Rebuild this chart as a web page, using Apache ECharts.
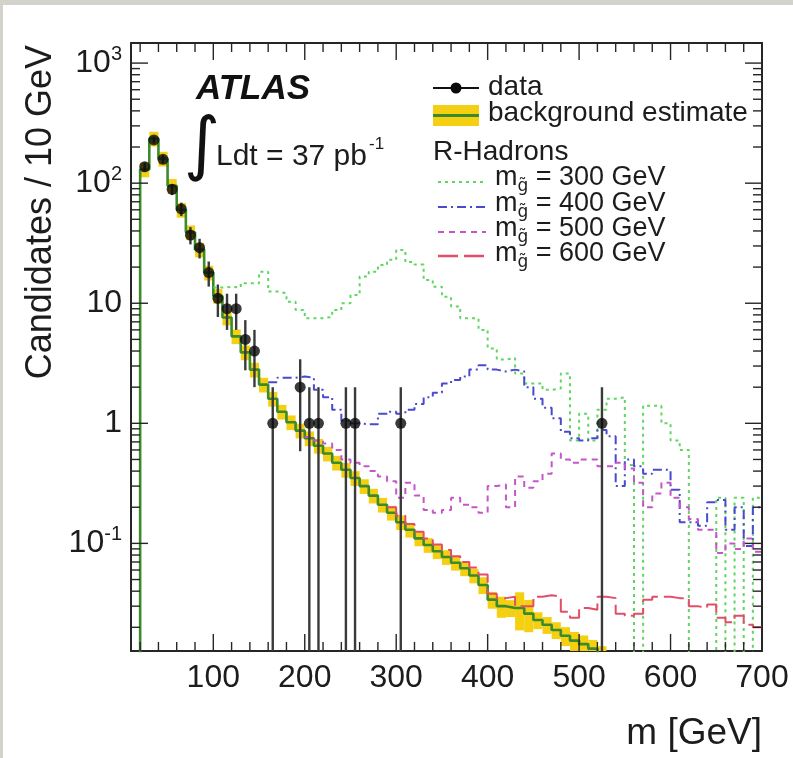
<!DOCTYPE html>
<html>
<head>
<meta charset="utf-8">
<title>R-Hadron candidates</title>
<script src="https://cdn.jsdelivr.net/npm/echarts@6/dist/echarts.min.js"></script>
<style>
  html, body { margin: 0; padding: 0; background: #d3d3cb; width: 793px; height: 758px; overflow: hidden; }
  #paper { position: absolute; left: 3px; top: 5px; width: 790px; height: 753px; background: #ffffff; }
  #chart { position: absolute; left: 0; top: 0; width: 793px; height: 758px; }
</style>
</head>
<body>
<div id="paper"></div>
<div id="chart"></div>
<script>
// ---- axis ranges ----
const X_MIN = 10, X_MAX = 700;
const Y_MIN = 0.0127, Y_MAX = 1470;
const BIN = 10;
const FLOOR = Y_MIN * 0.3;   // empty bins are drawn down to the floor of the pad
const xTickLabels = [100, 200, 300, 400, 500, 600, 700];

// ---- observed candidates (bin centres, counts) ----
const dataMass   = [25, 35, 45, 55, 65, 75, 85, 95, 105, 115, 125, 135, 145, 165, 195, 205, 215, 245, 255, 305, 525];
const dataCounts = [137, 229, 158, 89, 61, 37, 29, 18, 11, 9, 9, 5, 4, 1, 2, 1, 1, 1, 1, 1, 1];

// ---- background estimate, bins of 10 GeV starting at 20 GeV ----
const bkgStart = 20;
const bkgValues = [130, 235, 160, 95, 60, 39, 28, 18, 11.5, 7.6,
                   5.3, 3.9, 2.8, 2.1, 1.6, 1.25, 1.02, 0.87, 0.75, 0.65,
                   0.56, 0.47, 0.41, 0.35, 0.30, 0.25, 0.21, 0.18, 0.15, 0.13,
                   0.11, 0.097, 0.086, 0.077, 0.069, 0.062, 0.054, 0.045, 0.034, 0.030,
                   0.029, 0.029, 0.026, 0.023, 0.021, 0.019, 0.017, 0.0155, 0.0145, 0.0133,
                   0.0118];
const bkgRelErr = [0.14, 0.14, 0.14, 0.14, 0.14, 0.14, 0.14, 0.14, 0.14, 0.14,
                   0.14, 0.14, 0.14, 0.14, 0.14, 0.14, 0.14, 0.14, 0.14, 0.14,
                   0.14, 0.14, 0.14, 0.14, 0.14, 0.14, 0.14, 0.14, 0.14, 0.14,
                   0.14, 0.14, 0.14, 0.14, 0.14, 0.14, 0.14, 0.16, 0.16, 0.2,
                   0.16, 0.35, 0.3, 0.16, 0.16, 0.16, 0.18, 0.18, 0.18, 0.18,
                   0.18];

// ---- R-hadron signal + background, gluino masses 300/400/500/600 GeV ----
const sig300Start = 100;
const sig300 = [13.5, 13.7, 13.5, 14.7, 14.7, 18.3, 12.5, 12.1, 10.3, 8.8,
                7.5, 7.5, 7.7, 8.8, 10, 11.7, 16.7, 18.3, 20.8, 23,
                27.8, 22, 21, 15.6, 13.7, 11.3, 9.4, 7.5, 7.5, 6.0,
                4.2, 3.4, 3.5, 2.6, 2.15, 2.15, 1.9, 1.95, 2.6, 0.72,
                1.2, 0.72, 1.3, 1.6, 1.65, 0.45, 0, 1.4, 1.4, 1.0,
                0.72, 0.6, 0, 0, 0, 0.24, 0, 0.24, 0, 0.24];
const sig400Start = 160;
const sig400 = [2.2, 2.4, 2.4, 2.45, 2.4, 1.9, 1.65, 1.3, 1.05, 1.0,
                0.98, 0.98, 1.2, 1.25, 1.2, 1.3, 1.45, 1.65, 1.8, 2.15,
                2.3, 2.45, 2.8, 3.05, 2.8, 2.7, 2.8, 2.7, 2.0, 1.6,
                1.35, 1.1, 0.85, 0.75, 0.72, 0.75, 0.88, 0.78, 0.3, 0.5,
                0.44, 0.38, 0.41, 0.41, 0.28, 0.15, 0.15, 0.14, 0.22, 0.23,
                0.13, 0.2, 0.095, 0.2];
const sig500Start = 200;
const sig500 = [0.77, 0.72, 0.68, 0.6, 0.5, 0.47, 0.44, 0.4, 0.36, 0.33,
                0.24, 0.32, 0.25, 0.19, 0.18, 0.19, 0.24, 0.21, 0.2, 0.18,
                0.3, 0.31, 0.2, 0.36, 0.29, 0.33, 0.38, 0.56, 0.5, 0.47,
                0.5, 0.5, 0.44, 0.44, 0.47, 0.42, 0.32, 0.2, 0.26, 0.32,
                0.24, 0.2, 0.16, 0.13, 0.13, 0.083, 0.1, 0.09, 0.11, 0.085];
const sig600Start = 290;
const sig600 = [0.2, 0.17, 0.145, 0.125, 0.11, 0.098, 0.088, 0.078, 0.07, 0.063,
                0.055, 0.038, 0.035, 0.036, 0.03, 0.03, 0.036, 0.037, 0.036, 0.027,
                0.024, 0.029, 0.028, 0.036, 0.035, 0.026, 0.025, 0.026, 0.034, 0.036,
                0.036, 0.035, 0.035, 0.03, 0.029, 0.031, 0.024, 0.022, 0.025, 0.021,
                0.02];

// ---- styling ----
const FONT = '"Liberation Sans", Arial, Helvetica, sans-serif';
const TEXT = '#1c1c1c';
const FRAME = '#262626';
const BAND = '#f5cf12';
const BKG_LINE = '#3b8a2c';
const C300 = '#5fd65f', C400 = '#4a4acf', C500 = '#c456c8', C600 = '#e24d68';
const DASH300 = [3, 4], DASH400 = [9, 4, 2, 4], DASH500 = [6, 5], DASH600 = [20, 6];

// histogram outline: one point per bin low edge, plus the closing edge
function histPoints(start, values) {
  const pts = values.map((v, i) => [start + i * BIN, v > 0 ? v : FLOOR]);
  const last = values[values.length - 1];
  pts.push([start + values.length * BIN, last > 0 ? last : FLOOR]);
  return pts;
}

const bkgLine = [[X_MIN, FLOOR]].concat(histPoints(bkgStart, bkgValues));
const bandItems = bkgValues.map((v, i) => [bkgStart + i * BIN, v, bkgRelErr[i]]);
const dataItems = dataMass.map((m, i) => [m, dataCounts[i]]);

// tick marks on all four sides of the frame (ROOT style, pointing inwards)
const tickItems = [];
for (let m = 20; m < X_MAX; m += 20) tickItems.push([m, 1, 0, m % 100 === 0 ? 17 : 9]);
for (let e = -2; e <= 3; e++) {
  for (let k = 1; k <= 9; k++) {
    const v = k * Math.pow(10, e);
    if (v > Y_MIN && v < Y_MAX) tickItems.push([100, v, 1, k === 1 ? 17 : 9]);
  }
}

function renderTick(params, api) {
  const cs = params.coordSys;
  const len = api.value(3);
  const st = { stroke: FRAME, lineWidth: 1.4 };
  if (api.value(2) === 0) {
    const px = api.coord([api.value(0), 1])[0];
    const yb = cs.y + cs.height, yt = cs.y;
    return { type: 'group', children: [
      { type: 'line', shape: { x1: px, y1: yb, x2: px, y2: yb - len }, style: st },
      { type: 'line', shape: { x1: px, y1: yt, x2: px, y2: yt + len }, style: st }
    ] };
  }
  const py = api.coord([100, api.value(1)])[1];
  const xl = cs.x, xr = cs.x + cs.width;
  return { type: 'group', children: [
    { type: 'line', shape: { x1: xl, y1: py, x2: xl + len, y2: py }, style: st },
    { type: 'line', shape: { x1: xr, y1: py, x2: xr - len, y2: py }, style: st }
  ] };
}

function renderBand(params, api) {
  const lo = api.value(0), v = api.value(1), e = api.value(2);
  const p1 = api.coord([lo, v * (1 + e)]);
  const p2 = api.coord([lo + BIN, Math.max(v * (1 - e), Y_MIN)]);
  const rect = echarts.graphic.clipRectByRect(
    { x: p1[0], y: p1[1], width: p2[0] - p1[0], height: p2[1] - p1[1] },
    { x: params.coordSys.x, y: params.coordSys.y, width: params.coordSys.width, height: params.coordSys.height });
  if (!rect) return null;
  return { type: 'rect', shape: rect, style: { fill: BAND } };
}

function renderErr(params, api) {
  const m = api.value(0), n = api.value(1), e = Math.sqrt(n);
  const top = api.coord([m, n + e]);
  const bot = api.coord([m, Math.max(n - e, Y_MIN)]);
  return { type: 'line', shape: { x1: top[0], y1: top[1], x2: bot[0], y2: bot[1] },
           style: { stroke: '#3a3a3a', lineWidth: 2.4 } };
}

function signalSeries(name, start, values, color, dash) {
  return {
    name, type: 'line', step: 'end', symbol: 'none', z: 4,
    data: histPoints(start, values),
    lineStyle: { color, width: 2, type: dash }
  };
}

function yLabel(v) {
  const e = Math.round(Math.log10(v));
  if (e === 0) return '1';
  if (e === 1) return '10';
  return '10{sup|' + e + '}';
}

const chart = echarts.init(document.getElementById('chart'), null, { renderer: 'canvas' });

chart.setOption({
  animation: false,
  backgroundColor: 'transparent',
  grid: { left: 131, top: 43, width: 631, height: 608, containLabel: false },
  xAxis: [
    { type: 'value', min: X_MIN, max: X_MAX, position: 'bottom',
      axisLine: { show: true, onZero: false, lineStyle: { color: FRAME, width: 2 } },
      axisTick: { show: false }, splitLine: { show: false },
      axisLabel: { customValues: xTickLabels, fontSize: 32, color: TEXT, fontFamily: FONT, margin: 11 } },
    { type: 'value', min: X_MIN, max: X_MAX, position: 'top',
      axisLine: { show: true, onZero: false, lineStyle: { color: FRAME, width: 2 } },
      axisTick: { show: false }, splitLine: { show: false }, axisLabel: { show: false } }
  ],
  yAxis: [
    { type: 'log', logBase: 10, min: Y_MIN, max: Y_MAX, position: 'left',
      axisLine: { show: true, onZero: false, lineStyle: { color: FRAME, width: 2 } },
      axisTick: { show: false }, splitLine: { show: false }, minorTick: { show: false },
      axisLabel: { fontSize: 32, color: TEXT, fontFamily: FONT, margin: 9,
                   showMinLabel: false, showMaxLabel: false,
                   formatter: yLabel,
                   rich: { sup: { fontSize: 20, fontFamily: FONT, color: TEXT, padding: [0, 0, 18, 0] } } } },
    { type: 'log', logBase: 10, min: Y_MIN, max: Y_MAX, position: 'right',
      axisLine: { show: true, onZero: false, lineStyle: { color: FRAME, width: 2 } },
      axisTick: { show: false }, splitLine: { show: false }, axisLabel: { show: false } }
  ],
  series: [
    { name: 'band', type: 'custom', renderItem: renderBand, data: bandItems, z: 2, silent: true },
    { name: 'background estimate', type: 'line', step: 'end', symbol: 'none', z: 3,
      data: bkgLine, lineStyle: { color: BKG_LINE, width: 2.6 } },
    signalSeries('m300', sig300Start, sig300, C300, DASH300),
    signalSeries('m400', sig400Start, sig400, C400, DASH400),
    signalSeries('m500', sig500Start, sig500, C500, DASH500),
    signalSeries('m600', sig600Start, sig600, C600, DASH600),
    { name: 'data errors', type: 'custom', renderItem: renderErr, data: dataItems, z: 6, silent: true },
    { name: 'data', type: 'scatter', data: dataItems, symbol: 'circle', symbolSize: 11, z: 7,
      itemStyle: { color: '#0a0a0a' } },
    { name: 'ticks', type: 'custom', renderItem: renderTick, data: tickItems, z: 8, silent: true }
  ],
  graphic: [
    // axis titles
    { type: 'text', x: 41, y: 45, rotation: Math.PI / 2,
      style: { text: 'Candidates / 10 GeV', fontSize: 36, fontFamily: FONT, fill: TEXT, align: 'right', verticalAlign: 'middle' } },
    { type: 'text', x: 762, y: 734,
      style: { text: 'm [GeV]', fontSize: 37, fontFamily: FONT, fill: TEXT, align: 'right', verticalAlign: 'middle' } },
    // experiment label and luminosity
    { type: 'text', x: 196, y: 89,
      style: { text: 'ATLAS', fontSize: 35, fontWeight: 'bold', fontStyle: 'italic', fontFamily: FONT, fill: '#111', verticalAlign: 'middle' } },
    { type: 'text', x: 202, y: 149,
      style: { text: '\u222B', fontSize: 70, fontFamily: '"DejaVu Sans", sans-serif', fill: '#111', align: 'center', verticalAlign: 'middle' } },
    { type: 'text', x: 216, y: 157,
      style: { text: 'Ldt = 37 pb{sup|-1}', fontSize: 30, fontFamily: FONT, fill: TEXT, verticalAlign: 'middle',
               rich: { sup: { fontSize: 17, fontFamily: FONT, fill: TEXT, padding: [0, 0, 26, 2] } } } },
    // legend
    { type: 'line', shape: { x1: 433, y1: 88, x2: 479, y2: 88 }, style: { stroke: '#111', lineWidth: 2 } },
    { type: 'circle', shape: { cx: 456, cy: 88, r: 5.5 }, style: { fill: '#0a0a0a' } },
    { type: 'text', x: 488, y: 87, style: { text: 'data', fontSize: 28, fontFamily: FONT, fill: TEXT, verticalAlign: 'middle' } },
    { type: 'rect', shape: { x: 433, y: 105, width: 46, height: 21 }, style: { fill: BAND } },
    { type: 'line', shape: { x1: 433, y1: 115.5, x2: 479, y2: 115.5 }, style: { stroke: BKG_LINE, lineWidth: 3 } },
    { type: 'text', x: 488, y: 113, style: { text: 'background estimate', fontSize: 28, fontFamily: FONT, fill: TEXT, verticalAlign: 'middle' } },
    { type: 'text', x: 433, y: 152, style: { text: 'R-Hadrons', fontSize: 28, fontFamily: FONT, fill: TEXT, verticalAlign: 'middle' } },
    { type: 'line', shape: { x1: 438, y1: 182, x2: 486, y2: 182 }, style: { stroke: C300, lineWidth: 2, lineDash: DASH300 } },
    { type: 'line', shape: { x1: 438, y1: 207, x2: 486, y2: 207 }, style: { stroke: C400, lineWidth: 2, lineDash: DASH400 } },
    { type: 'line', shape: { x1: 438, y1: 232, x2: 486, y2: 232 }, style: { stroke: C500, lineWidth: 2, lineDash: DASH500 } },
    { type: 'line', shape: { x1: 438, y1: 256, x2: 486, y2: 256 }, style: { stroke: C600, lineWidth: 2.4, lineDash: DASH600 } },
    { type: 'text', x: 495, y: 178, style: { text: 'm{sub|g\u0303} = 300 GeV', fontSize: 27, fontFamily: FONT, fill: TEXT, verticalAlign: 'middle',
      rich: { sub: { fontSize: 17, fontFamily: '"DejaVu Sans", sans-serif', fill: TEXT, padding: [18, 0, 0, 0] } } } },
    { type: 'text', x: 495, y: 204, style: { text: 'm{sub|g\u0303} = 400 GeV', fontSize: 27, fontFamily: FONT, fill: TEXT, verticalAlign: 'middle',
      rich: { sub: { fontSize: 17, fontFamily: '"DejaVu Sans", sans-serif', fill: TEXT, padding: [18, 0, 0, 0] } } } },
    { type: 'text', x: 495, y: 229, style: { text: 'm{sub|g\u0303} = 500 GeV', fontSize: 27, fontFamily: FONT, fill: TEXT, verticalAlign: 'middle',
      rich: { sub: { fontSize: 17, fontFamily: '"DejaVu Sans", sans-serif', fill: TEXT, padding: [18, 0, 0, 0] } } } },
    { type: 'text', x: 495, y: 254, style: { text: 'm{sub|g\u0303} = 600 GeV', fontSize: 27, fontFamily: FONT, fill: TEXT, verticalAlign: 'middle',
      rich: { sub: { fontSize: 17, fontFamily: '"DejaVu Sans", sans-serif', fill: TEXT, padding: [18, 0, 0, 0] } } } }
  ]
});
</script>
</body>
</html>
